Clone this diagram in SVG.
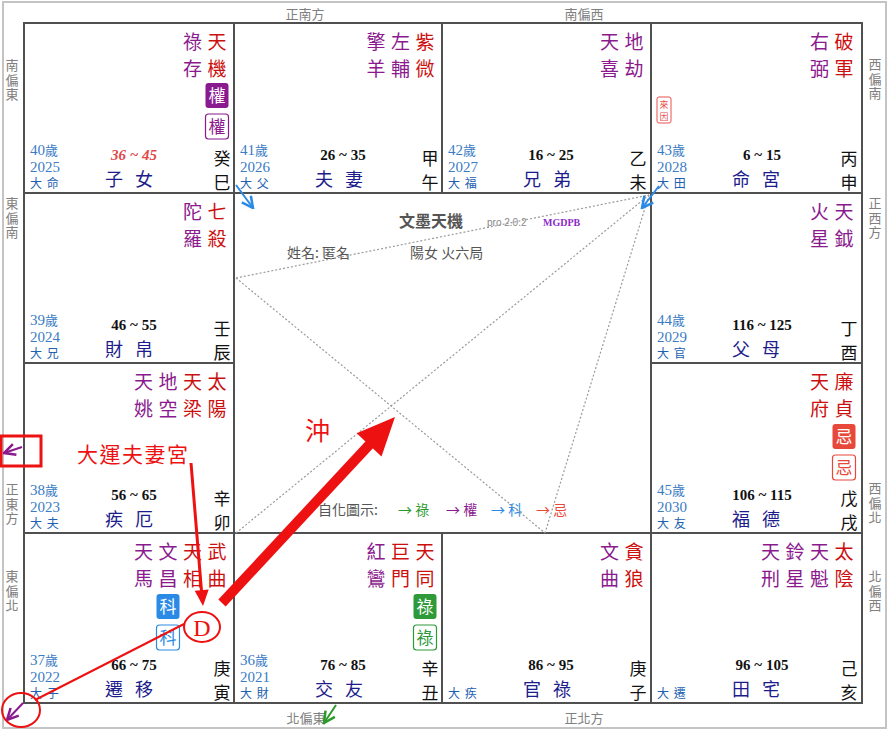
<svg xmlns="http://www.w3.org/2000/svg" width="889" height="730" viewBox="0 0 889 730">
<style>
.dir{font-family:"Noto Sans CJK TC",sans-serif;font-size:13px;fill:#808080;text-anchor:middle}
.dv{font-family:"Noto Sans CJK TC",sans-serif;font-size:13px;fill:#808080;writing-mode:vertical-rl;letter-spacing:1.5px}
.cell{fill:#fff;stroke:#505050;stroke-width:2}
.sr{font-family:"Noto Sans CJK TC",sans-serif;font-size:19px;fill:#cc1010;text-anchor:middle}
.sp{font-family:"Noto Sans CJK TC",sans-serif;font-size:19px;fill:#8a1a8e;text-anchor:middle}
.age{font-family:"Liberation Serif","Noto Sans CJK TC",serif;font-size:15px;fill:#3b7cc4}
.agek{font-family:"Noto Sans CJK TC",sans-serif;font-size:13px;fill:#3b7cc4}
.da{font-family:"Noto Sans CJK TC",sans-serif;font-size:12px;fill:#2060b0;letter-spacing:1px}
.rg{font-family:"Liberation Serif",serif;font-size:15px;font-weight:bold;fill:#111;text-anchor:middle}
.rgr{font-family:"Liberation Serif",serif;font-size:15px;font-weight:bold;font-style:italic;fill:#e04848;text-anchor:middle}
.pn{font-family:"Noto Sans CJK TC",sans-serif;font-size:18px;fill:#1c1c8c;letter-spacing:12px}
.gz{font-family:"Noto Sans CJK TC",sans-serif;font-size:17px;fill:#111;text-anchor:middle}
.box{font-family:"Noto Sans CJK TC",sans-serif;font-size:17px;text-anchor:middle}
.dot{stroke:#9a9a9a;stroke-width:1.2;stroke-dasharray:2 2;fill:none}
.ann{font-family:"Noto Sans CJK TC",sans-serif;fill:#ee1111}
</style>
<defs>
<marker id="hb" viewBox="0 0 10 10" refX="9" refY="5" markerWidth="7" markerHeight="7" orient="auto"><path d="M1,1 L9,5 L1,9" fill="none" stroke="#2a8ae6" stroke-width="1.8"/></marker>
<marker id="hp" viewBox="0 0 10 10" refX="9" refY="5" markerWidth="7" markerHeight="7" orient="auto"><path d="M1,1 L9,5 L1,9" fill="none" stroke="#8a1a8e" stroke-width="1.8"/></marker>
<marker id="hg" viewBox="0 0 10 10" refX="9" refY="5" markerWidth="7" markerHeight="7" orient="auto"><path d="M1,1 L9,5 L1,9" fill="none" stroke="#2a9a2a" stroke-width="1.8"/></marker>
</defs>
<rect x="0" y="0" width="889" height="730" fill="#fff"/>
<rect x="3" y="2" width="883" height="726" fill="none" stroke="#c4c4c4" stroke-width="2"/>

<g id="directions">
<text class="dir" x="305" y="19">正南方</text>
<text class="dir" x="584" y="19">南偏西</text>
<text class="dir" x="306" y="723">北偏東</text>
<text class="dir" x="584" y="723">正北方</text>
<text class="dv" x="12" y="59">南偏東</text>
<text class="dv" x="12" y="197">東偏南</text>
<text class="dv" x="12" y="483">正東方</text>
<text class="dv" x="12" y="570">東偏北</text>
<text class="dv" x="875" y="58">西偏南</text>
<text class="dv" x="875" y="197">正西方</text>
<text class="dv" x="875" y="482">西偏北</text>
<text class="dv" x="875" y="570">北偏西</text>
</g>

<!-- 巳 -->
<g id="cell-si">
<rect class="cell" x="24" y="23" width="210" height="170"/>
<text class="sr" x="217" y="49">天</text><text class="sr" x="217" y="76">機</text>
<text class="sp" x="192.5" y="49">祿</text><text class="sp" x="192.5" y="76">存</text>
<rect x="205.5" y="83" width="23" height="25" rx="3" fill="#8a1a8e"/><text class="box" x="217" y="102" fill="#fff">權</text>
<rect x="205.5" y="114" width="23" height="25" rx="3" fill="#fff" stroke="#8a1a8e" stroke-width="1.2"/><text class="box" x="217" y="133" fill="#8a1a8e">權</text>
<text class="age" x="30" y="155">40<tspan class="agek">歲</tspan></text>
<text class="age" x="30" y="172">2025</text>
<text class="da" x="30" y="188">大 命</text>
<text class="rgr" x="134" y="160">36 ~ 45</text>
<text class="pn" x="105" y="186">子女</text>
<text class="gz" x="222" y="165">癸</text><text class="gz" x="222" y="189">巳</text>
</g>

<!-- 午 -->
<g id="cell-wu">
<rect class="cell" x="234" y="23" width="208" height="170"/>
<text class="sr" x="425" y="49">紫</text><text class="sr" x="425" y="76">微</text>
<text class="sp" x="400.5" y="49">左</text><text class="sp" x="400.5" y="76">輔</text>
<text class="sp" x="376" y="49">擎</text><text class="sp" x="376" y="76">羊</text>
<text class="age" x="240" y="155">41<tspan class="agek">歲</tspan></text>
<text class="age" x="240" y="172">2026</text>
<text class="da" x="240" y="188">大 父</text>
<text class="rg" x="343" y="160">26 ~ 35</text>
<text class="pn" x="315" y="186">夫妻</text>
<text class="gz" x="430" y="165">甲</text><text class="gz" x="430" y="189">午</text>
</g>

<!-- 未 -->
<g id="cell-wei">
<rect class="cell" x="442" y="23" width="209" height="170"/>
<text class="sp" x="634" y="49">地</text><text class="sp" x="634" y="76">劫</text>
<text class="sp" x="609.5" y="49">天</text><text class="sp" x="609.5" y="76">喜</text>
<text class="age" x="448" y="155">42<tspan class="agek">歲</tspan></text>
<text class="age" x="448" y="172">2027</text>
<text class="da" x="448" y="188">大 福</text>
<text class="rg" x="551" y="160">16 ~ 25</text>
<text class="pn" x="523" y="186">兄弟</text>
<text class="gz" x="638" y="165">乙</text><text class="gz" x="638" y="189">未</text>
</g>

<!-- 申 -->
<g id="cell-shen">
<rect class="cell" x="651" y="23" width="211" height="170"/>
<text class="sr" x="844" y="49">破</text><text class="sr" x="844" y="76">軍</text>
<text class="sp" x="819.5" y="49">右</text><text class="sp" x="819.5" y="76">弼</text>
<rect x="657" y="97" width="14" height="26" rx="2" fill="#fff" stroke="#e85050" stroke-width="1"/>
<text x="664" y="108" font-family="Noto Sans CJK TC,sans-serif" font-size="9" fill="#e85050" text-anchor="middle">來</text>
<text x="664" y="120" font-family="Noto Sans CJK TC,sans-serif" font-size="9" fill="#e85050" text-anchor="middle">因</text>
<text class="age" x="657" y="155">43<tspan class="agek">歲</tspan></text>
<text class="age" x="657" y="172">2028</text>
<text class="da" x="657" y="188">大 田</text>
<text class="rg" x="762" y="160">6 ~ 15</text>
<text class="pn" x="732" y="186">命宮</text>
<text class="gz" x="849" y="165">丙</text><text class="gz" x="849" y="189">申</text>
</g>

<!-- 辰 -->
<g id="cell-chen">
<rect class="cell" x="24" y="193" width="210" height="170"/>
<text class="sr" x="217" y="219">七</text><text class="sr" x="217" y="246">殺</text>
<text class="sp" x="192.5" y="219">陀</text><text class="sp" x="192.5" y="246">羅</text>
<text class="age" x="30" y="325">39<tspan class="agek">歲</tspan></text>
<text class="age" x="30" y="342">2024</text>
<text class="da" x="30" y="358">大 兄</text>
<text class="rg" x="134" y="330">46 ~ 55</text>
<text class="pn" x="105" y="356">財帛</text>
<text class="gz" x="222" y="335">壬</text><text class="gz" x="222" y="359">辰</text>
</g>

<!-- 酉 -->
<g id="cell-you">
<rect class="cell" x="651" y="193" width="211" height="170"/>
<text class="sp" x="844" y="219">天</text><text class="sp" x="844" y="246">鉞</text>
<text class="sp" x="819.5" y="219">火</text><text class="sp" x="819.5" y="246">星</text>
<text class="age" x="657" y="325">44<tspan class="agek">歲</tspan></text>
<text class="age" x="657" y="342">2029</text>
<text class="da" x="657" y="358">大 官</text>
<text class="rg" x="762" y="330">116 ~ 125</text>
<text class="pn" x="732" y="356">父母</text>
<text class="gz" x="849" y="335">丁</text><text class="gz" x="849" y="359">酉</text>
</g>

<!-- 卯 -->
<g id="cell-mao">
<rect class="cell" x="24" y="363" width="210" height="170"/>
<text class="sr" x="217" y="389">太</text><text class="sr" x="217" y="416">陽</text>
<text class="sr" x="192.5" y="389">天</text><text class="sr" x="192.5" y="416">梁</text>
<text class="sp" x="168" y="389">地</text><text class="sp" x="168" y="416">空</text>
<text class="sp" x="143.5" y="389">天</text><text class="sp" x="143.5" y="416">姚</text>
<text class="age" x="30" y="495">38<tspan class="agek">歲</tspan></text>
<text class="age" x="30" y="512">2023</text>
<text class="da" x="30" y="528">大 夫</text>
<text class="rg" x="134" y="500">56 ~ 65</text>
<text class="pn" x="105" y="526">疾厄</text>
<text class="gz" x="222" y="505">辛</text><text class="gz" x="222" y="529">卯</text>
</g>

<!-- 戌 -->
<g id="cell-xu">
<rect class="cell" x="651" y="363" width="211" height="170"/>
<text class="sr" x="844" y="389">廉</text><text class="sr" x="844" y="416">貞</text>
<text class="sr" x="819.5" y="389">天</text><text class="sr" x="819.5" y="416">府</text>
<rect x="832.5" y="424" width="23" height="25" rx="3" fill="#e8483a"/><text class="box" x="844" y="443" fill="#fff">忌</text>
<rect x="832.5" y="455" width="23" height="25" rx="3" fill="#fff" stroke="#e8483a" stroke-width="1.2"/><text class="box" x="844" y="474" fill="#e8483a">忌</text>
<text class="age" x="657" y="495">45<tspan class="agek">歲</tspan></text>
<text class="age" x="657" y="512">2030</text>
<text class="da" x="657" y="528">大 友</text>
<text class="rg" x="762" y="500">106 ~ 115</text>
<text class="pn" x="732" y="526">福德</text>
<text class="gz" x="849" y="505">戊</text><text class="gz" x="849" y="529">戌</text>
</g>

<!-- 寅 -->
<g id="cell-yin">
<rect class="cell" x="24" y="533" width="210" height="170"/>
<text class="sr" x="217" y="559">武</text><text class="sr" x="217" y="586">曲</text>
<text class="sr" x="192.5" y="559">天</text><text class="sr" x="192.5" y="586">相</text>
<text class="sp" x="168" y="559">文</text><text class="sp" x="168" y="586">昌</text>
<text class="sp" x="143.5" y="559">天</text><text class="sp" x="143.5" y="586">馬</text>
<rect x="156.5" y="594" width="23" height="25" rx="3" fill="#2a8ae6"/><text class="box" x="168" y="613" fill="#fff">科</text>
<rect x="156.5" y="625" width="23" height="25" rx="3" fill="#fff" stroke="#2a8ae6" stroke-width="1.2"/><text class="box" x="168" y="644" fill="#2a8ae6">科</text>
<text class="age" x="30" y="665">37<tspan class="agek">歲</tspan></text>
<text class="age" x="30" y="682">2022</text>
<text class="da" x="30" y="698">大 子</text>
<text class="rg" x="134" y="670">66 ~ 75</text>
<text class="pn" x="105" y="696">遷移</text>
<text class="gz" x="222" y="675">庚</text><text class="gz" x="222" y="699">寅</text>
</g>

<!-- 丑 -->
<g id="cell-chou">
<rect class="cell" x="234" y="533" width="208" height="170"/>
<text class="sr" x="425" y="559">天</text><text class="sr" x="425" y="586">同</text>
<text class="sr" x="400.5" y="559">巨</text><text class="sr" x="400.5" y="586">門</text>
<text class="sp" x="376" y="559">紅</text><text class="sp" x="376" y="586">鸞</text>
<rect x="413.5" y="594" width="23" height="25" rx="3" fill="#2e9a3a"/><text class="box" x="425" y="613" fill="#fff">祿</text>
<rect x="413.5" y="625" width="23" height="25" rx="3" fill="#fff" stroke="#2e9a3a" stroke-width="1.2"/><text class="box" x="425" y="644" fill="#2e9a3a">祿</text>
<text class="age" x="240" y="665">36<tspan class="agek">歲</tspan></text>
<text class="age" x="240" y="682">2021</text>
<text class="da" x="240" y="698">大 財</text>
<text class="rg" x="343" y="670">76 ~ 85</text>
<text class="pn" x="315" y="696">交友</text>
<text class="gz" x="430" y="675">辛</text><text class="gz" x="430" y="699">丑</text>
</g>

<!-- 子 -->
<g id="cell-zi">
<rect class="cell" x="442" y="533" width="209" height="170"/>
<text class="sr" x="634" y="559">貪</text><text class="sr" x="634" y="586">狼</text>
<text class="sp" x="609.5" y="559">文</text><text class="sp" x="609.5" y="586">曲</text>
<text class="da" x="448" y="698">大 疾</text>
<text class="rg" x="551" y="670">86 ~ 95</text>
<text class="pn" x="523" y="696">官祿</text>
<text class="gz" x="638" y="675">庚</text><text class="gz" x="638" y="699">子</text>
</g>

<!-- 亥 -->
<g id="cell-hai">
<rect class="cell" x="651" y="533" width="211" height="170"/>
<text class="sr" x="844" y="559">太</text><text class="sr" x="844" y="586">陰</text>
<text class="sp" x="819.5" y="559">天</text><text class="sp" x="819.5" y="586">魁</text>
<text class="sp" x="795" y="559">鈴</text><text class="sp" x="795" y="586">星</text>
<text class="sp" x="770.5" y="559">天</text><text class="sp" x="770.5" y="586">刑</text>
<text class="da" x="657" y="698">大 遷</text>
<text class="rg" x="762" y="670">96 ~ 105</text>
<text class="pn" x="732" y="696">田宅</text>
<text class="gz" x="849" y="675">己</text><text class="gz" x="849" y="699">亥</text>
</g>

<g id="center">
<text x="399" y="227" font-family="Noto Sans CJK TC,sans-serif" font-size="16" font-weight="bold" fill="#555">文墨天機</text>
<text x="487" y="226" font-family="Liberation Sans,sans-serif" font-size="10" fill="#888">pro 2.0.2</text>
<text x="543" y="226" font-family="Liberation Serif,serif" font-size="10" font-weight="bold" fill="#8a2ac8">MGDPB</text>
<text x="287" y="258" font-family="Noto Sans CJK TC,sans-serif" font-size="14" fill="#555">姓名: 匿名</text>
<text x="410" y="258" font-family="Noto Sans CJK TC,sans-serif" font-size="14" fill="#555">陽女 火六局</text>
<text x="318" y="515" font-family="Noto Sans CJK TC,sans-serif" font-size="14" fill="#555">自化圖示:</text>
<text x="398" y="515" font-family="Noto Sans CJK TC,sans-serif" font-size="14" fill="#2a9a2a">→ 祿</text>
<text x="446" y="515" font-family="Noto Sans CJK TC,sans-serif" font-size="14" fill="#8a1a8e">→ 權</text>
<text x="491" y="515" font-family="Noto Sans CJK TC,sans-serif" font-size="14" fill="#2a8ae6">→ 科</text>
<text x="536" y="515" font-family="Noto Sans CJK TC,sans-serif" font-size="14" fill="#e8483a">→ 忌</text>
</g>

<g id="connectors">
<line class="dot" x1="236" y1="278" x2="649" y2="195"/>
<line class="dot" x1="236" y1="278" x2="545" y2="533"/>
<line class="dot" x1="649" y1="195" x2="545" y2="533"/>
<line class="dot" x1="236" y1="533" x2="649" y2="195"/>
<line x1="236" y1="185" x2="253" y2="208" stroke="#2a8ae6" stroke-width="2" marker-end="url(#hb)"/>
<line x1="659" y1="186" x2="642" y2="208" stroke="#2a8ae6" stroke-width="2" marker-end="url(#hb)"/>
<line x1="22" y1="447" x2="4" y2="453" stroke="#8a1a8e" stroke-width="2" marker-end="url(#hp)"/>
<line x1="23" y1="703" x2="7" y2="720" stroke="#8a1a8e" stroke-width="2" marker-end="url(#hp)"/>
<line x1="336" y1="705" x2="324" y2="723" stroke="#2a9a2a" stroke-width="2" marker-end="url(#hg)"/>
</g>

<g id="annotations">
<rect x="1" y="436" width="40" height="30" fill="none" stroke="#ee1111" stroke-width="3"/>
<ellipse cx="21" cy="710" rx="19" ry="17" fill="none" stroke="#ee1111" stroke-width="2"/>
<line x1="184" y1="624" x2="35" y2="700" stroke="#ee1111" stroke-width="2"/>
<ellipse cx="202" cy="627" rx="18" ry="15" fill="#fff" stroke="#ee1111" stroke-width="2"/>
<text x="202" y="636" font-family="Liberation Serif,serif" font-size="24" fill="#ee1111" text-anchor="middle">D</text>
<text class="ann" x="77" y="462" font-size="21" letter-spacing="1.5">大運夫妻宮</text>
<line x1="191" y1="463" x2="201.5" y2="591" stroke="#ee1111" stroke-width="3"/>
<polygon points="203,606 208.7,589.5 194.7,590.7" fill="#ee1111"/>
<line x1="222" y1="603" x2="370" y2="444" stroke="#ee1111" stroke-width="10"/>
<polygon points="395,417 381.5,456.4 356.7,433.2" fill="#ee1111"/>
<text class="ann" x="305" y="440" font-size="25">沖</text>
</g>
</svg>
